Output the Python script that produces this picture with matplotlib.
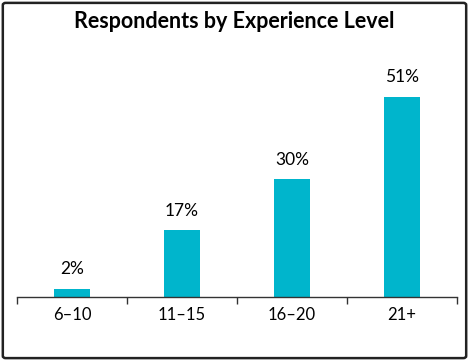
import matplotlib.pyplot as plt
from matplotlib.patches import FancyBboxPatch

categories = ["6–10", "11–15", "16–20", "21+"]
shares = [2, 17, 30, 51]
labels = ["2%", "17%", "30%", "51%"]

BAR_COLOR = "#00B5CC"

plt.rcParams["font.family"] = ["Lato", "DejaVu Sans"]

fig = plt.figure(figsize=(4.69, 3.61), dpi=100)
ax = fig.add_axes([17 / 469, 64 / 361, 440 / 469, 0.652])

x = list(range(len(categories)))
ax.bar(x, shares, width=0.32, color=BAR_COLOR)
for xi, val, lab in zip(x, shares, labels):
    ax.text(xi, val + 3.0, lab, ha="center", va="bottom", fontsize=12.5)

ax.set_xlim(-0.5, len(categories) - 0.5)
ax.set_ylim(0, 60)
ax.set_yticks([])
for side in ("top", "right", "left"):
    ax.spines[side].set_visible(False)
ax.spines["bottom"].set_color("#333333")
ax.spines["bottom"].set_linewidth(1.0)

# boundaries between categories carry the tick marks
ax.set_xticks([i - 0.5 for i in range(len(categories) + 1)])
ax.set_xticklabels([])
ax.tick_params(axis="x", length=5, width=1.0, color="#333333")
for xi, cat in zip(x, categories):
    ax.text(xi, -2.6, cat, ha="center", va="top", fontsize=12)

fig.text(0.5, 1 - 22 / 361, "Respondents by Experience Level", ha="center",
         va="center", fontsize=15.5, fontweight="bold")

border = FancyBboxPatch((0.006, 0.008), 0.988, 0.984, boxstyle="round,pad=0,rounding_size=0.006",
                        transform=fig.transFigure, fill=False, edgecolor="#222222", linewidth=1.8)
fig.patches.append(border)

fig.savefig("out.png", dpi=100)
